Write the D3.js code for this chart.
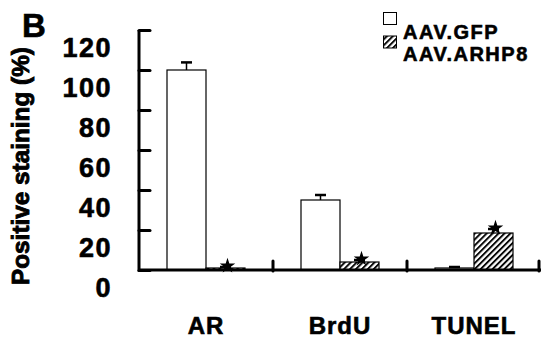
<!DOCTYPE html>
<html>
<head>
<meta charset="utf-8">
<script src="https://cdn.jsdelivr.net/npm/d3@7"></script>
<style>
  body { margin: 0; background: #fff; }
  text { font-family: Arial, "Liberation Sans", sans-serif; font-weight: bold; fill: #000; stroke: #000; stroke-width: 0.6px; }
</style>
</head>
<body>
<svg id="chart" width="541" height="341"></svg>
<script>
var groups = ['AR', 'BrdU', 'TUNEL'];
var seriesNames = ['AAV.GFP', 'AAV.ARHP8'];
var gfpValues = [100, 35, 1];
var gfpErrors = [3.8, 2.5, 0.5];
var arhp8Values = [1, 4, 18.5];
var arhp8Errors = [0.5, 1, 2];
var significant = [true, true, true];
var yTicks = [0, 20, 40, 60, 80, 100, 120];

var svg = d3.select('#chart');

// hatch for the ARHP8 bars
svg.append('defs').append('pattern')
    .attr('id', 'hatch')
    .attr('patternUnits', 'userSpaceOnUse')
    .attr('width', 4.2)
    .attr('height', 4.2)
    .attr('patternTransform', 'rotate(45)')
  .call(function (p) {
    p.append('rect').attr('width', 4.2).attr('height', 4.2).attr('fill', '#fff');
    p.append('line').attr('x1', 1).attr('y1', 0).attr('x2', 1).attr('y2', 4.2)
      .attr('stroke', '#000').attr('stroke-width', 1.9);
  });

var x = d3.scaleBand()
    .domain(groups)
    .range([139, 541])
    .padding(0);

var y = d3.scaleLinear()
    .domain([0, 120])
    .range([270, 30]);

var barW = 39;
var rows = groups.map(function (g, i) {
  return [
    {group: g, s: 0, v: gfpValues[i], e: gfpErrors[i]},
    {group: g, s: 1, v: arhp8Values[i], e: arhp8Errors[i]}
  ];
});
var bars = [].concat.apply([], rows);
var barX = function (d) { return x(d.group) + x.bandwidth() / 2 - barW + d.s * barW; };

// bars
svg.selectAll('.bar')
    .data(bars)
    .enter()
    .append('rect')
    .attr('class', 'bar')
    .attr('x', barX)
    .attr('y', d => y(d.v))
    .attr('width', barW)
    .attr('height', d => y(0) - y(d.v))
    .style('fill', d => d.s === 0 ? '#fff' : 'url(#hatch)')
    .style('stroke', '#000')
    .style('stroke-width', 1.2);

// error bars (upper only)
var err = svg.selectAll('.err')
    .data(bars)
    .enter()
    .append('g')
    .attr('class', 'err');
err.append('line')
    .attr('x1', d => barX(d) + barW / 2)
    .attr('x2', d => barX(d) + barW / 2)
    .attr('y1', d => y(d.v))
    .attr('y2', d => y(d.v + d.e))
    .style('stroke', '#000')
    .style('stroke-width', 1.5);
err.append('line')
    .attr('x1', d => barX(d) + barW / 2 - 5.5)
    .attr('x2', d => barX(d) + barW / 2 + 5.5)
    .attr('y1', d => y(d.v + d.e))
    .attr('y2', d => y(d.v + d.e))
    .style('stroke', '#000')
    .style('stroke-width', 2.5);

// significance stars
svg.selectAll('.star')
    .data(bars.filter((d, i) => d.s === 1 && significant[Math.floor(i / 2)]))
    .enter()
    .append('path')
    .attr('class', 'star')
    .attr('d', d3.symbol().type(d3.symbolStar).size(75))
    .attr('transform', d => 'translate(' + (barX(d) + barW / 2 + 2) + ',' + (y(d.v + d.e) - 1) + ')')
    .style('fill', '#000');

// y axis, ticks pointing inward
var yaxis = svg.append('g')
    .attr('transform', 'translate(139,0)')
    .call(d3.axisLeft(y).tickValues(yTicks).tickSize(-11).tickPadding(27));
yaxis.select('.domain')
    .attr('d', 'M0,' + y(120) + 'V' + (y(0) + 1.5))
    .style('stroke', '#000')
    .style('stroke-width', 3);
yaxis.selectAll('.tick line')
    .style('stroke', '#000')
    .style('stroke-width', 3)
    .style('stroke-linecap', 'round');
yaxis.selectAll('.tick text')
    .attr('dy', 26)
    .style('font-size', '27px')
    .style('letter-spacing', '1.5px')
    .style('font-family', 'Arial, "Liberation Sans", sans-serif');

// x axis
var xaxis = svg.append('g')
    .attr('transform', 'translate(0,' + y(0) + ')')
    .call(d3.axisBottom(x).tickSize(0).tickPadding(47));
xaxis.select('.domain')
    .attr('d', 'M138,0H541')
    .style('stroke', '#000')
    .style('stroke-width', 3);
xaxis.selectAll('.tick text')
    .style('font-size', '24px')
    .style('letter-spacing', '1px')
    .style('font-family', 'Arial, "Liberation Sans", sans-serif');

// small separators between groups
svg.selectAll('.sep')
    .data(groups)
    .enter()
    .append('line')
    .attr('class', 'sep')
    .attr('x1', d => Math.min(x(d) + x.bandwidth(), 539))
    .attr('x2', d => Math.min(x(d) + x.bandwidth(), 539))
    .attr('y1', y(0) - 9)
    .attr('y2', y(0) + 1)
    .style('stroke', '#000')
    .style('stroke-width', 3)
    .style('stroke-linecap', 'round');

// y title, drawn upward from the bottom, sized to fit 238px
var title = svg.append('text')
    .attr('transform', 'translate(29,285) rotate(-90)')
    .attr('text-anchor', 'start')
    .style('font-size', '22px')
    .style('stroke-width', '0.9px')
    .text('Positive staining (%)');
var tw = title.node().getComputedTextLength();
title.style('font-size', (22 * 238 / tw) + 'px');

// panel letter
svg.append('text')
    .attr('x', 22)
    .attr('y', 37)
    .style('font-size', '33px')
    .text('B');

// legend
var legend = svg.append('g');
legend.selectAll('rect')
    .data(seriesNames)
    .enter()
    .append('rect')
    .attr('x', 383.5)
    .attr('y', (d, i) => 12.5 + i * 23.5)
    .attr('width', 13)
    .attr('height', 12)
    .style('fill', (d, i) => i === 0 ? '#fff' : 'url(#hatch)')
    .style('stroke', '#000')
    .style('stroke-width', 1);
legend.selectAll('text')
    .data(seriesNames)
    .enter()
    .append('text')
    .attr('x', 403)
    .attr('y', (d, i) => 39 + i * 22)
    .style('font-size', '20px')
    .style('letter-spacing', '1.5px')
    .text(d => d);
</script>
</body>
</html>
